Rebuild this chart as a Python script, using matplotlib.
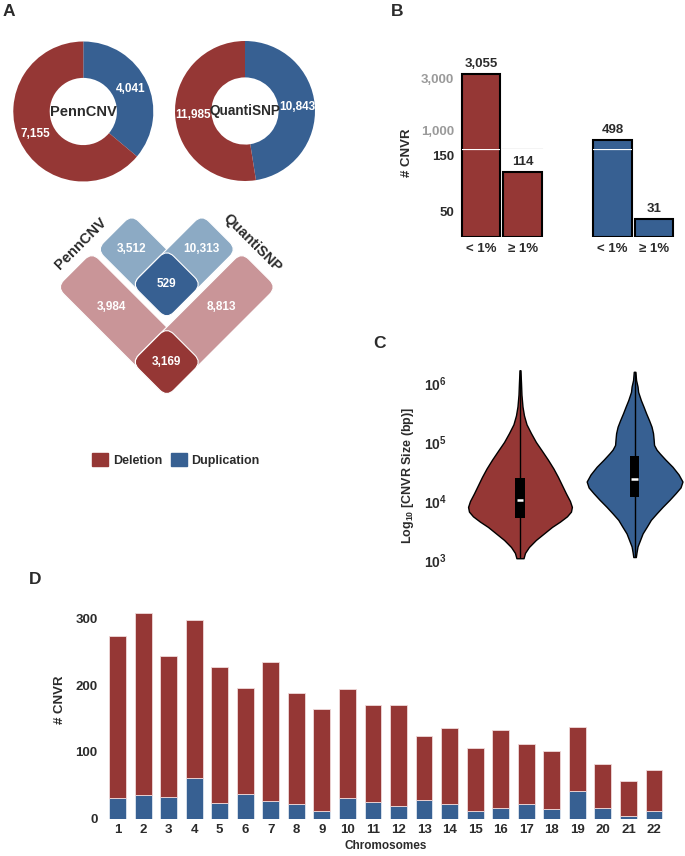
import numpy as np
import matplotlib
matplotlib.use('Agg')
import matplotlib.pyplot as plt
from matplotlib.patches import FancyBboxPatch, Patch
from matplotlib.transforms import Affine2D, ScaledTranslation

plt.rcParams['font.family'] = ['Liberation Sans', 'DejaVu Sans']
plt.rcParams['font.weight'] = 'bold'
plt.rcParams['mathtext.fontset'] = 'custom'
plt.rcParams['mathtext.rm'] = 'Liberation Sans:bold'
plt.rcParams['mathtext.bf'] = 'Liberation Sans:bold'
plt.rcParams['mathtext.it'] = 'Liberation Sans:bold'

# ---------------- data ----------------
callers = ['PennCNV', 'QuantiSNP']
caller_dup = [4041, 10843]
caller_del = [7155, 11985]

# Venn: [PennCNV only, QuantiSNP only, both]
venn_del = [3984, 8813, 3169]
venn_dup = [3512, 10313, 529]

freq_labels = ['< 1%', '\u2265 1%']
freq_del = [3055, 114]
freq_dup = [498, 31]

# violin outlines: log10(size) and half width (data units)
del_log = [6.215, 6.0, 5.8, 5.6, 5.45, 5.3, 5.15, 5.0, 4.85, 4.7, 4.55, 4.41, 4.27,
           4.13, 4.0, 3.9, 3.82, 3.74, 3.65, 3.56, 3.45, 3.34, 3.22, 3.12, 3.03]
del_hw = [0.004, 0.009, 0.013, 0.022, 0.035, 0.057, 0.096, 0.139, 0.192, 0.244, 0.292,
          0.331, 0.366, 0.401, 0.436, 0.453, 0.445, 0.410, 0.349, 0.279, 0.209, 0.139,
          0.078, 0.044, 0.031]
dup_log = [6.19, 6.05, 5.94, 5.85, 5.71, 5.6, 5.49, 5.37, 5.26, 5.15, 5.05, 4.95, 4.87,
           4.81, 4.7, 4.58, 4.45, 4.33, 4.23, 4.13, 4.02, 3.9, 3.79, 3.68, 3.56, 3.45,
           3.34, 3.23, 3.13, 3.05]
dup_hw = [0.007, 0.013, 0.026, 0.031, 0.055, 0.078, 0.100, 0.126, 0.148, 0.161, 0.166,
          0.170, 0.192, 0.218, 0.270, 0.331, 0.384, 0.418, 0.401, 0.357, 0.305, 0.244,
          0.192, 0.142, 0.105, 0.070, 0.048, 0.026, 0.017, 0.011]
# box stats: q1, median, q3 (bp)
del_box = [5100, 10500, 25000]
dup_box = [11700, 24000, 59000]

chromosomes = [str(i) for i in range(1, 23)]
dup_cnvr = [30, 35, 32, 60, 23, 37, 26, 22, 11, 30, 24, 19, 28, 21, 11, 15, 21, 14, 41, 15, 4, 11]
del_cnvr = [244, 273, 212, 238, 204, 159, 208, 166, 153, 164, 146, 151, 96, 115, 94, 118,
            91, 87, 96, 67, 52, 61]

# ---------------- style ----------------
RED = '#953735'
BLUE = '#376092'
LPINK = '#C99598'
LBLUE = '#8CAAC4'
DARK = '#2b2b2b'
GRAY = '#9a9a9a'

W, H = 685, 856
fig = plt.figure(figsize=(W / 100, H / 100), dpi=100)


def ax_px(x0, y0, x1, y1):
    return fig.add_axes([x0 / W, 1 - y1 / H, (x1 - x0) / W, (y1 - y0) / H])


def clean(ax):
    for s in ax.spines.values():
        s.set_visible(False)
    ax.tick_params(length=0)


def shift_labels(labels, dy_pt):
    for t in labels:
        t.set_transform(t.get_transform() + ScaledTranslation(0, dy_pt / 72, fig.dpi_scale_trans))


# ---------------- Panel A: donuts ----------------
centers = [(83.3, 111.5), (245, 111)]
name_sizes = [10.5, 9.8]
for i, name in enumerate(callers):
    cx, cy = centers[i]
    ax = ax_px(cx - 70, cy - 70, cx + 70, cy + 70)
    vals = [caller_dup[i], caller_del[i]]
    tot = sum(vals)
    ax.pie(vals, colors=[BLUE, RED], startangle=90, counterclock=False, radius=1,
           wedgeprops=dict(width=0.52, edgecolor='none'),
           autopct=lambda p, t=tot: f'{int(round(p * t / 100)):,}', pctdistance=0.75,
           textprops=dict(color='white', fontsize=8.5, fontweight='bold'))
    ax.text(0, 0, name, ha='center', va='center', fontsize=name_sizes[i], color=DARK,
            fontweight='bold')
    ax.set_xlim(-1, 1)
    ax.set_ylim(-1, 1)
    ax.axis('off')

# ---------------- Panel A: Venn (rounded diamonds) ----------------
axv = ax_px(40, 200, 295, 405)
axv.set_xlim(-2.56, 2.59)
axv.set_ylim(-0.16, 3.98)
axv.axis('off')
rot = Affine2D().rotate_deg(45) + axv.transData
Ld, Lb, off = 3.14, 2.0, 1.11


def rbox(q0, p0, wq, hp, color, z):
    axv.add_patch(FancyBboxPatch((q0, p0), wq, hp,
                                 boxstyle='round,pad=0,rounding_size=0.2',
                                 fc=color, ec='white', lw=0.8, transform=rot, zorder=z))


def pq_text(p, q, s, **kw):
    axv.text((q - p) / np.sqrt(2), (q + p) / np.sqrt(2), s, ha='center', va='center', **kw)


rbox(0, 0, 1, Ld, LPINK, 1)
rbox(0, 0, Ld, 1, LPINK, 2)
rbox(0, 0, 1, 1, RED, 3)
rbox(off, off, 1, Lb, LBLUE, 1)
rbox(off, off, Lb, 1, LBLUE, 2)
rbox(off, off, 1, 1, BLUE, 3)

lab = dict(color='white', fontsize=8.5, fontweight='bold', zorder=5)
pq_text((1 + Ld) / 2, 0.5, f'{venn_del[0]:,}', **lab)
pq_text(0.5, (1 + Ld) / 2, f'{venn_del[1]:,}', **lab)
pq_text(0.5, 0.5, f'{venn_del[2]:,}', **lab)
pq_text(off + 1 + (Lb - 1) / 2, off + 0.5, f'{venn_dup[0]:,}', **lab)
pq_text(off + 0.5, off + 1 + (Lb - 1) / 2, f'{venn_dup[1]:,}', **lab)
pq_text(off + 0.5, off + 0.5, f'{venn_dup[2]:,}', **lab)
pq_text(3.42, 0.97, callers[0], rotation=45, color=DARK, fontsize=10.5, fontweight='bold')
pq_text(0.97, 3.42, callers[1], rotation=-45, color=DARK, fontsize=10.5, fontweight='bold')

fig.legend(handles=[Patch(color=RED, label='Deletion'), Patch(color=BLUE, label='Duplication')],
           loc='center', bbox_to_anchor=(176 / W, 1 - 460 / H), ncol=2, frameon=False,
           handlelength=1.25, handleheight=1.25, columnspacing=0.7, handletextpad=0.4,
           prop=dict(size=9, weight='bold'), labelcolor=DARK)

# ---------------- Panel B: broken-axis bars ----------------
xpos = [0, 1, 3.15, 4.15]
vals_b = freq_del + freq_dup
cols_b = [RED, RED, BLUE, BLUE]
low_top, up_bot = 154, 138
axl = ax_px(458, 149.3, 677, 237)
axu = ax_px(458, 67.7, 677, 149.3)
for ax in (axl, axu):
    ax.bar(xpos, vals_b, width=0.92, color=cols_b, edgecolor='black', linewidth=1.5)
    ax.set_xlim(-0.55, 4.7)
    clean(ax)
axl.set_ylim(0, low_top)
axu.set_ylim(up_bot, 3300)
axu.set_xticks([])
axl.set_xticks(xpos)
axl.set_xticklabels(freq_labels * 2, fontsize=9.5, color=DARK, fontweight='bold')
axl.tick_params(axis='x', pad=4)
axl.set_yticks([50, 150])
axl.set_yticklabels(['50', '150'], fontsize=9.5, color=DARK, fontweight='bold')
axu.set_yticks([1000, 3000])
axu.set_yticklabels(['1,000', '3,000'], fontsize=9.5, color=GRAY, fontweight='bold')
for ax in (axl, axu):
    ax.tick_params(axis='y', pad=3)
    shift_labels(ax.get_yticklabels(), -2.5)
for x, v in zip(xpos, vals_b):
    target = axu if v > low_top else axl
    target.annotate(f'{v:,}', (x, v), xytext=(0, 3), textcoords='offset points',
                    ha='center', va='bottom', fontsize=9.5, color=DARK, fontweight='bold')
    if v > low_top:
        axl.hlines(low_top, x - 0.46, x + 0.46, color='white', lw=1.6, clip_on=False, zorder=5)
fig.text(407 / W, 1 - 153 / H, '# CNVR', rotation=90, ha='center', va='center',
         fontsize=9.5, color=DARK, fontweight='bold')

# ---------------- Panel C: violins ----------------
axc = ax_px(455, 365, 685, 560)
axc.set_yscale('log')
for i, (lg, hw, bx, col) in enumerate([(del_log, del_hw, del_box, RED),
                                        (dup_log, dup_hw, dup_box, BLUE)]):
    yy = 10 ** np.array(lg)
    hw = np.array(hw)
    axc.fill_betweenx(yy, i - hw, i + hw, facecolor=col, edgecolor='black', lw=1, zorder=2)
    axc.vlines(i, yy.min(), yy.max(), color='black', lw=1, zorder=3)
    axc.fill_between([i - 0.04, i + 0.04], bx[0], bx[2], color='black', zorder=4, lw=0)
    axc.hlines(bx[1], i - 0.03, i + 0.03, color='white', lw=1.8, zorder=5)
axc.set_xlim(-0.567, 1.44)
axc.set_ylim(1e3, 10 ** 6.305)
axc.set_xticks([])
axc.set_yticks([1e3, 1e4, 1e5, 1e6])
axc.set_yticklabels([r'$10^{3}$', r'$10^{4}$', r'$10^{5}$', r'$10^{6}$'], fontsize=10, color=DARK)
axc.yaxis.set_minor_locator(matplotlib.ticker.NullLocator())
clean(axc)
axc.tick_params(axis='y', pad=6)
fig.text(408 / W, 1 - 475 / H, r'Log$_{10}$ [CNVR Size (bp)]', rotation=90, ha='center',
         va='center', fontsize=9, color=DARK, fontweight='bold')

# ---------------- Panel D: stacked bars per chromosome ----------------
axd = ax_px(103, 605, 668, 818.5)
xs = np.arange(1, len(chromosomes) + 1)
axd.bar(xs, dup_cnvr, width=0.66, color=BLUE, edgecolor='#dfe6f0', linewidth=0.6)
axd.bar(xs, del_cnvr, bottom=dup_cnvr, width=0.66, color=RED, edgecolor='#f0dada', linewidth=0.6)
axd.set_xlim(0.43, 22.55)
axd.set_ylim(0, 320)
axd.set_xticks(xs)
axd.set_xticklabels(chromosomes, fontsize=9.5, color=DARK, fontweight='bold')
axd.set_yticks([0, 100, 200, 300])
axd.set_yticklabels(['0', '100', '200', '300'], fontsize=9.5, color=DARK, fontweight='bold')
clean(axd)
axd.tick_params(axis='x', pad=4)
axd.tick_params(axis='y', pad=4)
axd.set_xlabel('Chromosomes', fontsize=8.5, color=DARK, fontweight='bold', labelpad=3)
fig.text(60 / W, 1 - 700 / H, '# CNVR', rotation=90, ha='center', va='center',
         fontsize=9.5, color=DARK, fontweight='bold')

# ---------------- panel letters ----------------
for letter, (x, y) in zip('ABCD', [(9, 11), (397, 12), (380, 344), (35, 580)]):
    fig.text(x / W, 1 - y / H, letter, ha='center', va='center', fontsize=12.5,
             color=DARK, fontweight='bold')

fig.savefig('out.png', dpi=100)
